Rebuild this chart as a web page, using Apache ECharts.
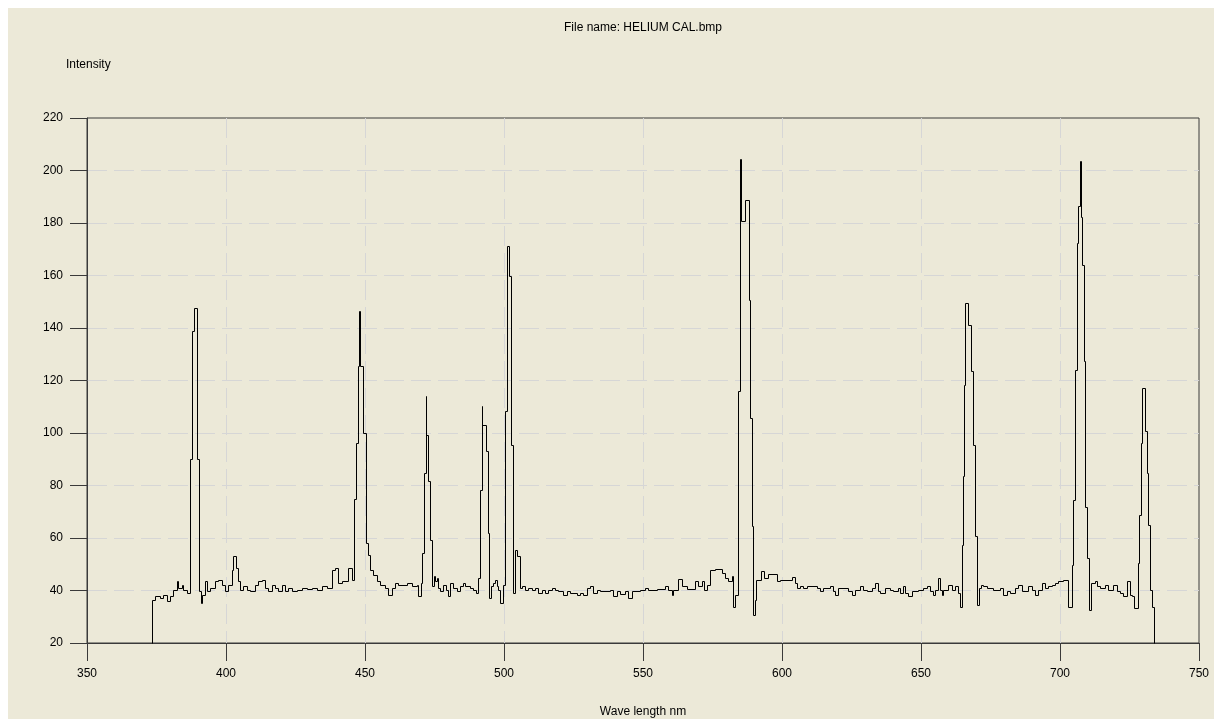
<!DOCTYPE html>
<html><head><meta charset="utf-8">
<script src="https://cdn.jsdelivr.net/npm/echarts@6/dist/echarts.min.js"></script>
<style>
html,body{margin:0;padding:0;background:#ffffff;width:1214px;height:719px;overflow:hidden}
#c{position:absolute;left:8px;top:8px;width:1206px;height:711px;background:#ECE9D8}
</style>
</head><body><div id="c"></div>
<script>
// Wavelength (nm) at which each intensity level starts (step plot)
const wavelengths = [
373.3,373.3,374.5,376.3,377.5,378.7,379.9,381.0,382.2,382.8,
384.0,384.6,385.8,387.0,387.9,388.5,389.7,390.3,390.9,391.5,
392.4,393.0,394.2,396.0,397.2,398.4,399.6,400.8,402.0,402.6,
403.5,404.2,405.0,406.2,407.4,408.6,410.4,411.6,412.8,414.0,
415.2,416.4,417.6,418.8,420.0,421.2,422.4,423.6,425.4,427.2,
429.0,430.8,432.6,434.4,436.2,438.0,439.2,440.4,441.6,444.0,
445.2,446.0,446.6,447.6,448.0,448.3,449.4,450.2,451.2,451.8,
453.0,454.2,455.4,457.2,458.4,459.6,460.8,462.0,465.0,466.8,
468.6,469.2,470.0,470.6,471.2,471.8,472.0,472.8,473.4,474.2,
474.8,475.2,475.8,476.4,477.0,478.2,479.1,480.0,480.6,481.8,
483.0,484.2,485.4,486.0,487.8,489.0,489.9,490.5,491.4,492.0,
492.2,493.5,494.1,494.6,495.3,496.2,496.8,497.4,498.0,498.6,
499.5,500.4,501.0,501.9,502.5,503.4,504.0,504.8,505.8,506.6,
507.6,508.8,510.0,511.2,512.4,513.5,514.8,516.0,517.1,518.3,
519.5,521.3,522.5,523.7,526.1,527.3,528.5,529.7,530.9,532.1,
533.3,534.5,538.1,539.3,540.5,541.7,543.5,544.7,545.9,548.9,
550.7,551.9,554.9,557.9,559.1,560.3,560.9,562.7,563.9,565.7,
568.7,569.9,571.1,571.9,572.9,574.1,575.9,578.3,579.5,580.7,
581.9,582.5,583.1,584.1,584.9,585.4,586.8,588.0,588.5,589.1,
589.4,590.2,590.8,592.4,593.7,594.9,598.1,599.3,603.5,604.7,
605.3,606.5,607.7,608.9,612.5,613.7,614.9,617.3,618.5,619.1,
620.3,623.9,625.1,626.3,628.0,629.3,630.5,632.2,633.4,634.6,
635.2,637.0,638.8,640.0,641.8,642.5,643.6,644.2,645.4,646.6,
649.0,650.8,652.0,653.2,654.4,655.0,656.2,656.8,657.4,658.0,
659.8,661.0,662.2,663.4,664.0,664.6,665.2,665.6,666.0,667.0,
667.9,668.6,669.4,670.0,670.9,671.5,672.4,673.6,676.0,678.4,
679.6,680.8,682.0,683.8,685.0,686.2,688.6,689.8,691.0,692.2,
693.4,694.6,695.8,697.0,698.2,699.4,701.2,703.0,704.2,704.8,
705.4,706.0,706.6,707.1,707.4,707.9,708.5,709.1,709.7,710.3,
711.2,712.6,713.2,714.4,716.2,717.4,719.2,720.4,721.6,722.8,
724.0,725.0,725.8,726.7,728.0,728.5,729.1,729.6,730.7,731.2,
731.8,732.4,733.2,733.9
];
const intensities = [
20,36.5,37.8,37.1,38.4,35.9,37.8,40.3,43.5,41.0,
42.2,40.3,39.0,90.2,138.7,147.6,90.2,39.7,35.2,38.4,
43.5,39.7,41.0,43.5,44.1,42.2,39.7,42.2,47.9,53.0,
48.5,43.5,40.3,41.6,40.3,39.7,42.2,43.5,44.1,41.0,
39.7,42.2,41.0,39.7,42.2,39.7,41.0,39.7,40.3,41.0,
40.6,41.0,40.3,41.6,41.0,47.9,48.5,42.8,43.5,48.5,
44.1,74.8,96.2,125.4,146.3,125.4,100.0,58.1,53.6,47.9,
46.0,43.5,42.2,41.0,38.4,41.0,42.8,42.2,42.8,41.6,
42.2,37.8,42.9,54.3,84.8,114.0,99.1,81.6,59.3,41.6,
45.4,43.5,44.8,41.0,39.7,42.2,40.3,37.8,42.9,41.0,
39.7,41.6,42.9,41.6,41.0,40.3,39.0,44.8,78.4,110.1,
103.2,93.0,61.9,37.1,41.6,42.9,44.1,41.6,40.3,35.2,
42.2,108.2,171.1,159.7,95.5,39.0,55.5,53.0,41.0,41.6,
40.3,41.0,40.3,41.0,39.0,40.3,39.0,40.3,41.0,40.3,
39.7,38.4,39.7,39.0,38.4,39.0,38.4,41.0,41.6,39.0,
40.3,39.9,40.3,38.0,39.7,38.8,39.7,37.1,39.7,40.1,
40.9,40.1,40.6,41.6,40.1,38.4,40.3,44.4,41.6,40.6,
43.5,41.6,43.5,40.3,42.2,47.9,48.2,46.7,44.7,43.5,
45.4,33.9,38.4,115.9,204.5,180.6,188.9,150.8,105.7,64.4,
30.8,36.5,44.1,47.3,44.7,46.4,43.5,44.1,45.1,42.8,
40.9,41.6,40.9,41.8,40.9,40.0,40.9,41.6,39.7,38.4,
40.9,39.7,38.4,40.3,41.6,40.3,39.7,40.9,42.8,39.7,
39.0,40.9,40.3,40.0,40.9,39.0,41.6,39.0,37.8,39.7,
40.3,40.9,41.6,39.7,38.4,40.3,44.7,40.3,38.4,40.3,
42.2,40.3,41.6,39.0,33.9,57.4,83.5,118.4,149.5,141.3,
123.5,95.5,60.6,34.6,40.9,42.2,41.6,40.9,40.3,40.9,
38.4,39.7,39.0,40.9,42.2,39.7,41.6,40.3,38.4,40.3,
42.8,40.9,41.6,42.2,42.8,43.5,44.1,33.9,49.8,74.6,
124.1,172.4,186.3,203.8,182.3,164.1,127.3,72.0,52.4,32.7,
42.8,43.5,41.6,40.9,42.2,40.3,42.2,39.7,39.0,37.8,
43.5,38.4,37.8,33.3,50.5,68.9,96.2,117.1,100.6,84.7,
65.1,40.3,33.9,20
];
const xRange = [350, 750, 50];
const yRange = [20, 220, 20];
const titleText = 'File name: HELIUM CAL.bmp';
const yName = 'Intensity';
const xName = 'Wave length nm';

const seriesData = wavelengths.map((w, i) => [w, intensities[i]]);
const FONT = 'Liberation Sans, Arial, sans-serif';
const frameColor = '#3a3a3a';
const gridColor = '#d6d6d6';
const snap = v => Math.round(v) + 0.5;

const chart = echarts.init(document.getElementById('c'), null, {renderer: 'canvas'});
chart.setOption({
  animation: false,
  backgroundColor: '#ECE9D8',
  grid: {left: 79, top: 110, right: 15, bottom: 76, show: true, borderColor: frameColor, borderWidth: 1, backgroundColor: 'transparent'},
  graphic: [
    {type: 'text', x: 635, y: 20, style: {text: titleText, font: '12px ' + FONT, fill: '#000', align: 'center', verticalAlign: 'middle', textAlign: 'center', textVerticalAlign: 'middle'}},
    {type: 'text', x: 58, y: 57, style: {text: yName, font: '12px ' + FONT, fill: '#000', align: 'left', verticalAlign: 'middle', textAlign: 'left', textVerticalAlign: 'middle'}},
    {type: 'text', x: 635, y: 704, style: {text: xName, font: '12px ' + FONT, fill: '#000', align: 'center', verticalAlign: 'middle', textAlign: 'center', textVerticalAlign: 'middle'}}
  ],
  xAxis: {
    type: 'value', min: xRange[0], max: xRange[1], interval: xRange[2],
    axisLine: {show: true, lineStyle: {color: frameColor, width: 1}},
    axisTick: {show: true, inside: false, length: 18, lineStyle: {color: frameColor, width: 1}},
    axisLabel: {show: true, margin: 25, color: '#000', fontSize: 12, fontFamily: FONT},
    splitLine: {show: true, showMinLine: false, showMaxLine: false, lineStyle: {color: gridColor, width: 1, type: [20, 7]}}
  },
  yAxis: {
    type: 'value', min: yRange[0], max: yRange[1], interval: yRange[2],
    axisLine: {show: true, lineStyle: {color: frameColor, width: 1}},
    axisTick: {show: true, inside: false, length: 17, lineStyle: {color: frameColor, width: 1}},
    axisLabel: {show: true, margin: 24, color: '#000', fontSize: 12, fontFamily: FONT},
    splitLine: {show: true, showMinLine: false, showMaxLine: false, lineStyle: {color: gridColor, width: 1, type: [20, 7]}}
  },
  series: [{
    type: 'custom',
    data: seriesData,
    encode: {x: 0, y: 1},
    silent: true,
    z: 5,
    renderItem: function (params, api) {
      const i = params.dataIndex;
      if (i >= wavelengths.length - 1) return null;
      const p0 = api.coord([wavelengths[i], intensities[i]]);
      const p1 = api.coord([wavelengths[i + 1], intensities[i]]);
      const p2 = api.coord([wavelengths[i + 1], intensities[i + 1]]);
      return {
        type: 'polyline',
        shape: {points: [[snap(p0[0]), snap(p0[1])], [snap(p1[0]), snap(p1[1])], [snap(p2[0]), snap(p2[1])]]},
        style: {stroke: '#000', lineWidth: 1, fill: null}
      };
    }
  }]
});
</script>
</body></html>
